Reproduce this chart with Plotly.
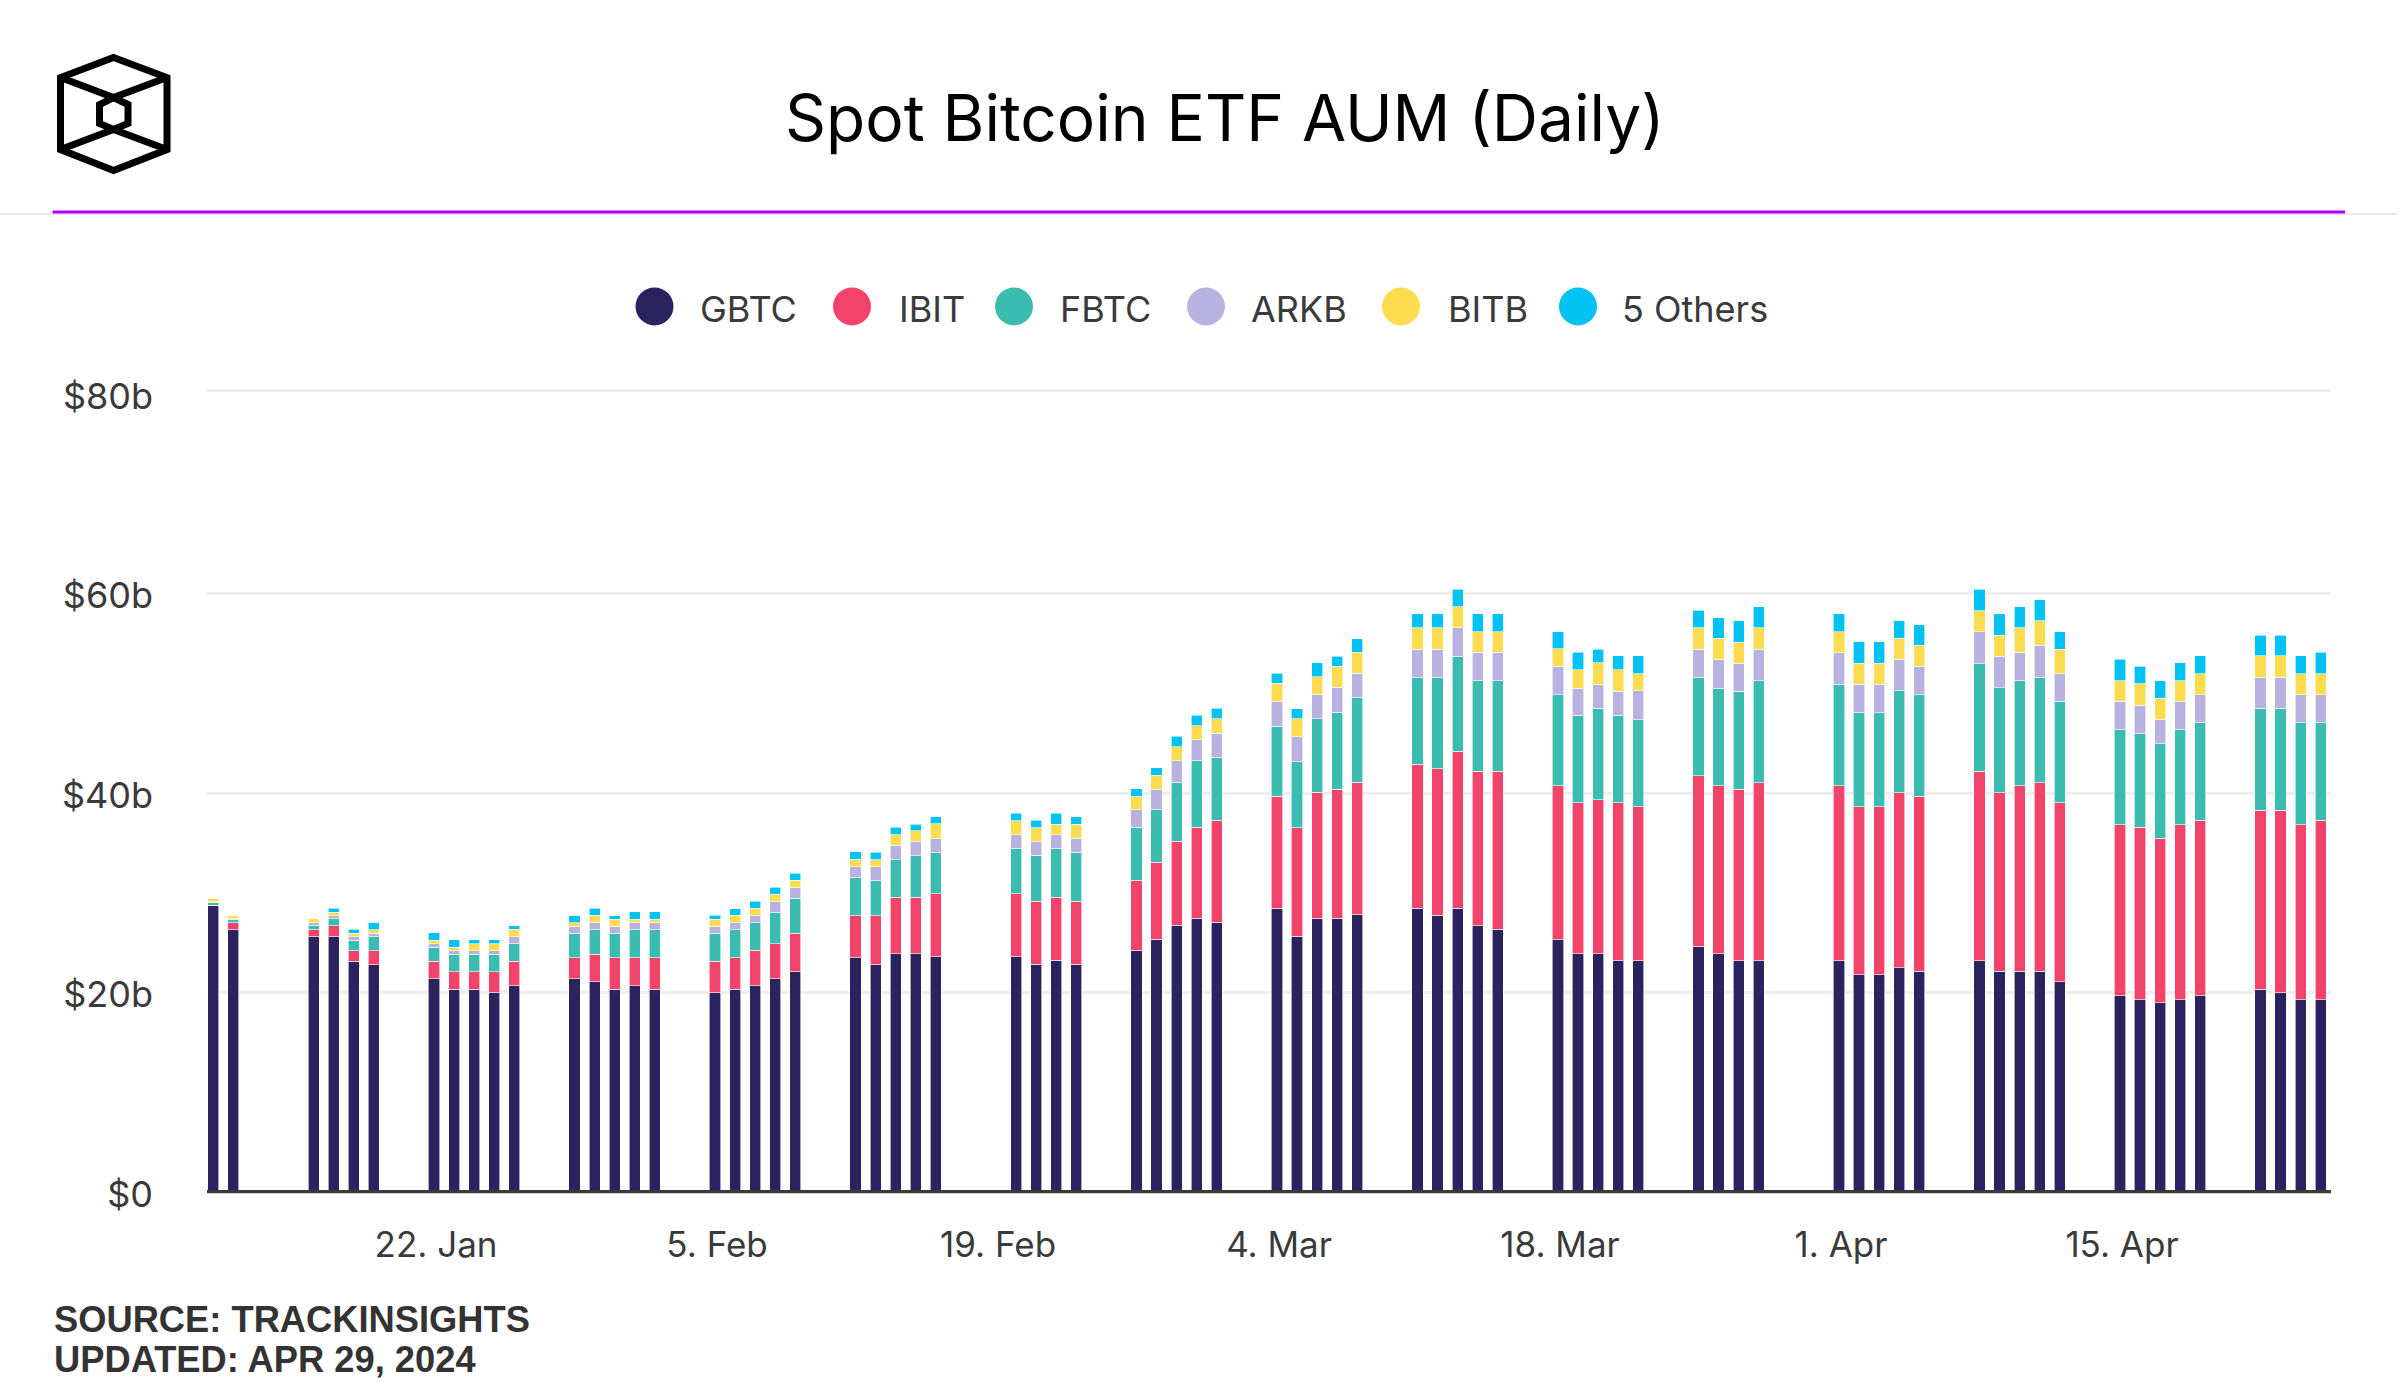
import plotly.graph_objects as go

dates = ["2024-01-11","2024-01-12","2024-01-16","2024-01-17","2024-01-18","2024-01-19",
"2024-01-22","2024-01-23","2024-01-24","2024-01-25","2024-01-26",
"2024-01-29","2024-01-30","2024-01-31","2024-02-01","2024-02-02",
"2024-02-05","2024-02-06","2024-02-07","2024-02-08","2024-02-09",
"2024-02-12","2024-02-13","2024-02-14","2024-02-15","2024-02-16",
"2024-02-20","2024-02-21","2024-02-22","2024-02-23",
"2024-02-26","2024-02-27","2024-02-28","2024-02-29","2024-03-01",
"2024-03-04","2024-03-05","2024-03-06","2024-03-07","2024-03-08",
"2024-03-11","2024-03-12","2024-03-13","2024-03-14","2024-03-15",
"2024-03-18","2024-03-19","2024-03-20","2024-03-21","2024-03-22",
"2024-03-25","2024-03-26","2024-03-27","2024-03-28",
"2024-04-01","2024-04-02","2024-04-03","2024-04-04","2024-04-05",
"2024-04-08","2024-04-09","2024-04-10","2024-04-11","2024-04-12",
"2024-04-15","2024-04-16","2024-04-17","2024-04-18","2024-04-19",
"2024-04-22","2024-04-23","2024-04-24","2024-04-25"]

gbtc = [28.7,26.29,25.6,25.6,23.14,22.8, 21.4,20.33,20.33,20.0,20.67, 21.4,21.07,20.33,20.67,20.33,
        20.0,20.33,20.67,21.4,22.07, 23.48,22.8,23.9,23.9,23.56, 23.56,22.83,23.21,22.83,
        24.25,25.32,26.74,27.43,27.05, 28.46,25.66,27.43,27.43,27.77, 28.44,27.73,28.44,26.69,26.36,
        25.28,23.91,23.91,23.2,23.2, 24.62,23.91,23.2,23.2, 23.2,21.79,21.79,22.5,22.12,
        23.2,22.12,22.12,22.12,21.08, 19.67,19.29,18.96,19.29,19.67, 20.33,20.0,19.29,19.29]
ibit = [.05,.7,.7,1.07,1.04,1.37, 1.74,1.74,1.74,2.07,2.47, 2.07,2.78,3.14,2.81,3.14,
        3.14,3.14,3.55,3.48,3.88, 4.21,4.88,5.63,5.63,6.32, 6.32,6.32,6.32,6.32,
        6.98,7.74,8.43,9.12,10.22, 11.23,10.88,12.64,12.95,13.33, 14.43,14.72,15.76,15.47,15.8,
        15.47,15.09,15.43,15.8,15.43, 17.13,16.84,17.17,17.84, 17.55,16.84,16.84,17.55,17.55,
        18.96,17.92,18.63,18.92,17.92, 17.17,17.26,16.51,17.55,17.59, 17.92,18.25,17.55,17.96]
fbtc = [.3,.37,.37,.7,1.07,1.4, 1.4,1.77,1.77,1.77,1.74, 2.47,2.44,2.47,2.81,2.81,
        2.81,2.81,2.78,3.18,3.51, 3.88,3.51,3.8,4.18,4.18, 4.56,4.59,4.9,4.9,
        5.32,5.25,5.91,6.67,6.29, 7.02,6.6,7.36,7.73,8.43, 8.69,9.11,9.52,9.11,9.11,
        9.11,8.77,9.15,8.77,8.73, 9.81,9.77,9.85,10.23, 10.15,9.44,9.44,10.19,10.19,
        10.81,10.52,10.52,10.56,10.19, 9.52,9.4,9.48,9.52,9.77, 10.23,10.23,10.19,9.77]
arkb = [.05,.03,.33,.33,.33,.37, .33,.33,.33,.33,.7, .7,.7,.7,.7,.7,
        .7,.7,.7,1.04,1.04, 1.04,1.4,1.42,1.42,1.42, 1.38,1.38,1.38,1.42,
        1.76,2.07,2.14,2.11,2.45, 2.51,2.51,2.47,2.47,2.47, 2.83,2.83,2.83,2.83,2.83,
        2.83,2.74,2.41,2.45,2.87, 2.83,2.83,2.79,3.12, 3.16,2.83,2.83,3.16,2.83,
        3.2,3.16,2.83,3.2,2.79, 2.83,2.83,2.45,2.83,2.83, 3.12,3.12,2.83,2.83]
bitb = [.35,.35,.37,.37,.37,.37, .37,.37,.74,.74,.74, .37,.74,.7,.37,.37,
        .7,.74,.74,.74,.74, .74,.74,1.07,1.07,1.42, 1.42,1.42,1.07,1.42,
        1.38,1.42,1.42,1.42,1.42, 1.77,1.77,1.77,2.11,2.11, 2.16,2.16,2.12,2.08,2.08,
        1.75,1.83,2.16,2.12,1.75, 2.16,2.16,2.12,2.16, 2.12,2.12,2.12,2.12,2.12,
        2.12,2.12,2.45,2.45,2.45, 2.08,2.16,2.12,2.08,2.12, 2.16,2.16,2.12,2.12]
others = [.03,.02,.02,.4,.37,.7, .74,.74,.37,.37,.37, .7,.7,.37,.74,.74,
          .37,.7,.7,.7,.7, .74,.74,.73,.69,.73, .73,.73,1.07,.73,
          .73,.73,1.07,1.07,1.07, 1.04,1.04,1.37,1.04,1.37, 1.41,1.41,1.75,1.79,1.79,
          1.75,1.75,1.37,1.41,1.79, 1.79,2.08,2.12,2.12, 1.79,2.12,2.12,1.75,2.08,
          2.12,2.12,2.12,2.12,1.75, 2.12,1.75,1.75,1.79,1.79, 2.08,2.08,1.79,2.12]

series_names = ["GBTC", "IBIT", "FBTC", "ARKB", "BITB", "5 Others"]
series_values = [gbtc, ibit, fbtc, arkb, bitb, others]
colors = ["#2B2260", "#F2446B", "#3BBCB1", "#B8B2E0", "#FDDD4F", "#00C2F3"]
legend_dot_x = [654.5, 852, 1014, 1206, 1401, 1578]
legend_text_x = [698, 897, 1058, 1249, 1445.5, 1620]

x_tick_dates = ["2024-01-22","2024-02-05","2024-02-19","2024-03-04","2024-03-18","2024-04-01","2024-04-15"]
x_tick_text = ["22. Jan","5. Feb","19. Feb","4. Mar","18. Mar","1. Apr","15. Apr"]
y_tick_vals = [0, 20, 40, 60, 80]
y_tick_text = ["$0", "$20b", "$40b", "$60b", "$80b"]

W, H = 2401, 1400
L, R, T, B = 207, 2331, 393.6, 1192
FONT = "Inter"
TEXT = "#3A3A3A"
DAY_MS = 86400000

def px(x): return (x - L) / (R - L)
def py(y): return (B - y) / (B - T)
def path(pts, close=False):
    s = "M" + " L".join(f"{px(a):.5f},{py(b):.5f}" for a, b in pts)
    return s + (" Z" if close else "")

fig = go.Figure()
for name, vals, col in zip(series_names, series_values, colors):
    fig.add_bar(x=dates, y=vals, name=name, width=0.56 * DAY_MS,
                marker=dict(color=col, line=dict(color="rgba(255,255,255,0.75)", width=0.8)),
                showlegend=False)

shapes = []
# header rules
shapes.append(dict(type="line", xref="paper", yref="paper", x0=px(0), x1=px(2397), y0=py(213.5), y1=py(213.5),
                   line=dict(color="#E5C8FB", width=1.2)))
shapes.append(dict(type="line", xref="paper", yref="paper", x0=px(52.5), x1=px(2345), y0=py(211.5), y1=py(211.5),
                   line=dict(color="#B000FF", width=3)))
# top grid rule of the reference sits slightly above the $80b label position
shapes.append(dict(type="line", xref="paper", yref="paper", x0=0, x1=1, y0=py(390), y1=py(390), layer="below",
                   line=dict(color="#EEEEEE", width=3)))
# baseline
shapes.append(dict(type="line", xref="paper", yref="paper", x0=0, x1=1, y0=py(1191.6), y1=py(1191.6),
                   layer="above", line=dict(color="#3A3A3A", width=3.4)))
# logo
logo_line = dict(color="#000000", width=7)
for pts, close in [
    ([(113.5,57),(167,77),(167,149),(113.5,170),(60.5,149),(60.5,77)], True),
    ([(60.5,77),(113.5,97),(167,77)], False),
    ([(60.5,149),(113.5,129),(167,149)], False),
    ([(113.5,97),(128,104),(128,123),(113.5,129),(99.5,123),(99.5,104)], True),
]:
    shapes.append(dict(type="path", xref="paper", yref="paper", path=path(pts, close), line=logo_line))
# legend dots
annotations = []
for name, col, dx, tx in zip(series_names, colors, legend_dot_x, legend_text_x):
    shapes.append(dict(type="circle", xref="paper", yref="paper",
                       x0=px(dx - 19), x1=px(dx + 19), y0=py(306 + 19), y1=py(306 - 19),
                       fillcolor=col, line=dict(width=0)))
    annotations.append(dict(text=name, xref="paper", yref="paper", x=px(tx), y=py(309), xanchor="left", yanchor="middle",
                            showarrow=False, font=dict(family=FONT, size=36, color=TEXT)))
annotations.append(dict(text="Spot Bitcoin ETF AUM (Daily)", xref="paper", yref="paper", x=px(1225), y=py(117),
                        xanchor="center", yanchor="middle", showarrow=False,
                        font=dict(family=FONT, size=64, color="#000000")))
annotations.append(dict(text="<b>SOURCE: TRACKINSIGHTS</b>", xref="paper", yref="paper", x=px(51.5), y=py(1320),
                        xanchor="left", yanchor="middle", showarrow=False,
                        font=dict(family="Liberation Sans", size=36.3, color="#333333")))
annotations.append(dict(text="<b>UPDATED: APR 29, 2024</b>", xref="paper", yref="paper", x=px(51.5), y=py(1360),
                        xanchor="left", yanchor="middle", showarrow=False,
                        font=dict(family="Liberation Sans", size=36.3, color="#333333")))

fig.update_layout(
    width=W, height=H, barmode="stack", plot_bgcolor="white", paper_bgcolor="white",
    margin=dict(l=L, r=W - R, t=T, b=H - B, pad=0, autoexpand=False),
    font=dict(family=FONT, size=36, color=TEXT),
    shapes=shapes, annotations=annotations,
    xaxis=dict(type="date", range=["2024-01-10 16:28", "2024-04-25 12:19"],
               tickmode="array", tickvals=x_tick_dates, ticktext=x_tick_text,
               showgrid=False, showline=False, ticks="", zeroline=False,
               tickfont=dict(family=FONT, size=35, color=TEXT),
               ticklabelstandoff=29, ticklabelshift=2),
    yaxis=dict(range=[0, 80], tickmode="array", tickvals=y_tick_vals, ticktext=y_tick_text,
               showgrid=True, gridcolor="#EEEEEE", gridwidth=3, zeroline=False, showline=False, ticks="",
               tickfont=dict(family=FONT, size=36, color=TEXT),
               ticklabelstandoff=53, ticklabelshift=2),
)

fig.write_html("out.html", config={"displayModeBar": False},
               post_script="document.body.style.margin='0';")
